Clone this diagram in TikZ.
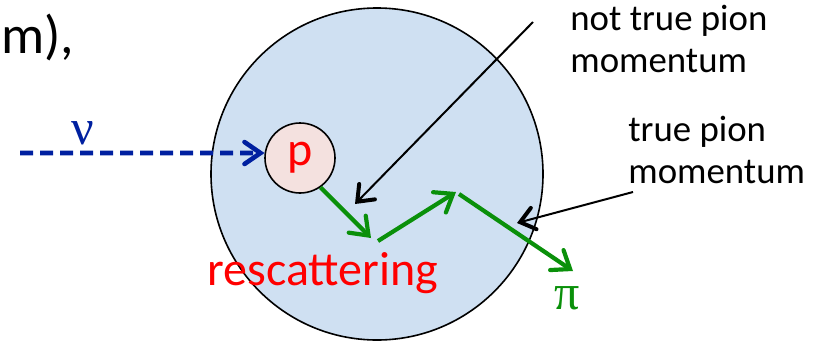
\documentclass[tikz,border=0pt]{standalone}
\usepackage{fontspec}
\setmainfont{Carlito}
\newfontfamily\grk{Liberation Serif}
\usetikzlibrary{arrows.meta}
\definecolor{nucfill}{HTML}{CFE0F2}
\definecolor{profill}{HTML}{F4E1DF}
\definecolor{nublue}{HTML}{0020A0}
\definecolor{trkgrn}{HTML}{0A900A}
\definecolor{redtxt}{HTML}{FF0000}
\tikzset{
  nucl/.style={circle,draw=black,line width=0.8pt,fill=nucfill,minimum size=166pt,inner sep=0pt},
  prot/.style={circle,draw=black,line width=0.8pt,fill=profill,minimum size=35pt,inner sep=0pt,text=redtxt,font=\fontsize{24}{28}\selectfont},
  nuar/.style={-{Straight Barb[length=8pt,width=11pt,line cap=round]},line width=2.3pt,draw=nublue,dash pattern=on 6.5pt off 3.5pt},
  trk/.style={-{Straight Barb[length=8pt,width=12pt,line cap=round]},line width=2.1pt,draw=trkgrn},
  ptr/.style={-{Straight Barb[length=7pt,width=11pt,line width=2pt,line cap=round]},line width=1pt,draw=black},
  lbl/.style={align=left,inner sep=0pt,font=\fontsize{18.4}{21}\selectfont},
}

\begin{document}
\begin{tikzpicture}[x=0.5pt,y=-0.5pt]
  \useasboundingbox (0,0) rectangle (824,343);
  \node[inner sep=0pt,anchor=base west,font=\fontsize{27}{32}\selectfont] (clip) at (1,53) {m),};
  % nucleus with the struck proton
  \node[nucl] (nucleus) at (377,174) {};
  \node[prot] (p) at (300,158) {p};
  % incoming neutrino
  \coordinate (nuin) at (20,153);
  \draw[nuar] (nuin) -- (p.172);
  \node[inner sep=0pt,text=nublue,font=\grk\fontsize{25}{30}\selectfont] (nu) at (83,133) {ν};
  % pion track with rescattering
  \coordinate (k1) at (371,238);
  \coordinate (k2) at (378,241);
  \coordinate (k3) at (456,192);
  \coordinate (k4) at (459,194);
  \coordinate (pout) at (573,271);
  \draw[trk] (p.-55) -- (k1);
  \draw[trk] (k2) -- (k3);
  \draw[trk] (k4) -- (pout);
  \node[inner sep=0pt,text=trkgrn,font=\grk\fontsize{25}{30}\selectfont] (pi) at (567,298) {π};
  \node[inner sep=0pt,anchor=base,text=redtxt,font=\fontsize{24}{28}\selectfont] (resc) at (323,285) {rescattering};
  % momentum labels
  \node[lbl,anchor=base west] (nottrue) at (570,72) {not true pion\\momentum};
  \node[lbl,anchor=base west] (true) at (628,183) {true pion\\momentum};
  \coordinate (ntfoot) at (533,22);
  \coordinate (nthead) at (355,204);
  \coordinate (tfoot) at (633,192);
  \coordinate (thead) at (517,223);
  \draw[ptr] (ntfoot) -- (nthead);
  \draw[ptr] (tfoot) -- (thead);
\end{tikzpicture}
\end{document}
